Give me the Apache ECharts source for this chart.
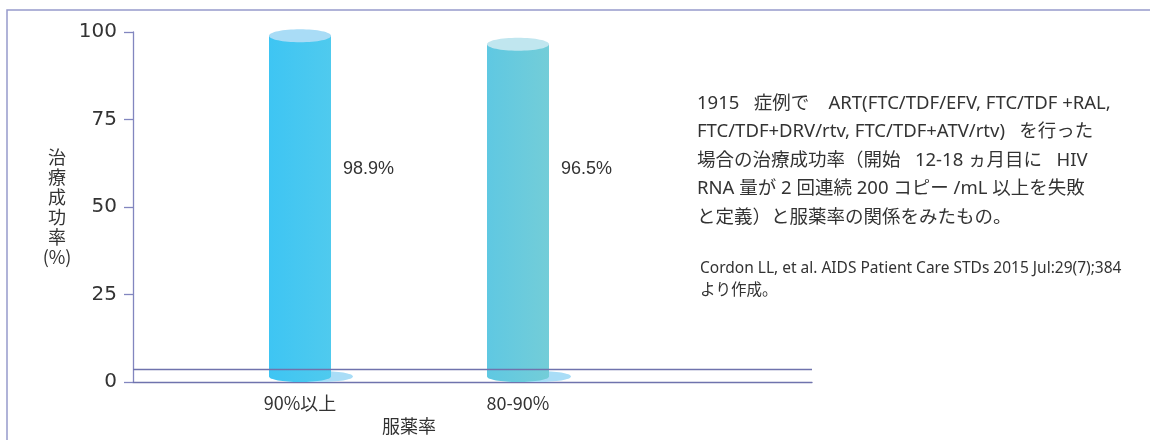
<!DOCTYPE html>
<html>
<head>
<meta charset="utf-8">
<script src="https://cdn.jsdelivr.net/npm/echarts@6/dist/echarts.min.js"></script>
<style>
  html, body { margin: 0; padding: 0; background: #fff; }
  #chart { width: 1150px; height: 440px; }
</style>
</head>
<body>
<div id="chart"></div>
<script>
// data
const categories = ['90%以上', '80-90%']
const successRate = [98.9, 96.5]
const yMin = 0
const yMax = 100
const yInterval = 25
const floorLevel = 3.7 // back edge of the "floor"
const labelLevel = 61  // height where the value labels sit

const noteLines = [
  '1915   症例で    ART(FTC/TDF/EFV, FTC/TDF +RAL,',
  'FTC/TDF+DRV/rtv, FTC/TDF+ATV/rtv)   を行った',
  '場合の治療成功率（開始   12-18 ヵ月目に   HIV',
  'RNA 量が 2 回連続 200 コピー /mL 以上を失敗',
  'と定義）と服薬率の関係をみたもの。',
]
const sourceLines = [
  'Cordon LL, et al. AIDS Patient Care STDs 2015 Jul:29(7);384',
  'より作成。',
]

// cylinder colours per bar: [body left, body right, top cap]
const palette = [
  ['#3ec5f3', '#4fcaee', '#a9dcf6'],
  ['#5fc8e2', '#73cdd8', '#c0e6ef'],
]
const SHADOW = '#a9ddf7'
const AXIS_COLOR = '#8286bf'
const BASE_COLOR = '#6f73ad'
const TEXT = '#333'
const LATIN_CJK = '"Noto Sans CJK JP", "Noto Sans", sans-serif'
const NOTE_FONT = '"Noto Sans", "Noto Sans CJK JP", sans-serif'

const chart = echarts.init(document.getElementById('chart'))

function renderCylinder(params, api) {
  const idx = api.value(0)
  const top = api.coord([idx, api.value(1)])
  const base = api.coord([idx, 0])
  const rx = 31
  const ryTop = 6.5
  const ryBot = 5.5
  const cx = top[0]
  const c = palette[idx % palette.length]
  const body = new echarts.graphic.LinearGradient(0, 0, 1, 0, [
    { offset: 0, color: c[0] },
    { offset: 1, color: c[1] },
  ])
  const lbl = api.coord([idx, labelLevel])
  return {
    type: 'group',
    children: [
      {
        type: 'ellipse',
        shape: { cx: cx + 20, cy: base[1] - ryBot, rx: 33, ry: ryBot },
        style: { fill: SHADOW },
      },
      {
        type: 'rect',
        shape: { x: cx - rx, y: top[1], width: rx * 2, height: base[1] - ryBot - top[1] },
        style: { fill: body },
      },
      {
        type: 'ellipse',
        shape: { cx: cx, cy: base[1] - ryBot, rx: rx, ry: ryBot },
        style: { fill: body },
      },
      {
        type: 'ellipse',
        shape: { cx: cx, cy: top[1], rx: rx, ry: ryTop },
        style: { fill: c[2] },
      },
      {
        type: 'text',
        x: cx + rx + 12,
        y: lbl[1] + 1,
        style: {
          text: api.value(1).toFixed(1) + '%',
          fill: TEXT,
          font: '18px "Liberation Sans", sans-serif',
          verticalAlign: 'middle',
          align: 'left',
        },
      },
    ],
  }
}

const option = {
  animation: false,
  grid: [
    { left: 133, top: 32, width: 679, height: 350 },
    { left: 191, top: 32, width: 436, height: 350 },
  ],
  xAxis: [
    {
      type: 'value',
      gridIndex: 0,
      min: 0,
      max: 1,
      axisLine: { show: true, lineStyle: { color: BASE_COLOR, width: 1.3 } },
      axisTick: { show: false },
      axisLabel: { show: false },
      splitLine: { show: false },
    },
    {
      type: 'category',
      gridIndex: 1,
      data: categories,
      axisLine: { show: false },
      axisTick: { show: false },
      axisLabel: {
        color: TEXT,
        fontSize: 18,
        fontFamily: LATIN_CJK,
        margin: 12,
      },
      name: '服薬率',
      nameLocation: 'middle',
      nameGap: 34,
      nameTextStyle: { color: TEXT, fontSize: 18, fontFamily: LATIN_CJK },
    },
  ],
  yAxis: [
    {
      type: 'value',
      gridIndex: 0,
      min: yMin,
      max: yMax,
      interval: yInterval,
      axisLine: { show: true, lineStyle: { color: AXIS_COLOR, width: 1.3 } },
      axisTick: { show: true, length: 9, lineStyle: { color: AXIS_COLOR, width: 1.3 } },
      axisLabel: {
        color: TEXT,
        fontSize: 20,
        fontFamily: '"DejaVu Sans", sans-serif',
        margin: 16,
      },
      splitLine: { show: false },
      name: '治\n療\n成\n功\n率\n(%)',
      nameLocation: 'middle',
      nameRotate: 0,
      nameGap: 76,
      nameTextStyle: {
        color: TEXT,
        fontSize: 18,
        fontFamily: LATIN_CJK,
        lineHeight: 20,
        align: 'center',
        verticalAlign: 'middle',
      },
    },
    {
      type: 'value',
      gridIndex: 1,
      min: yMin,
      max: yMax,
      show: false,
    },
  ],
  graphic: [
    {
      type: 'rect',
      silent: true,
      shape: { x: 7, y: 10, width: 1300, height: 600 },
      style: { fill: 'none', stroke: '#979bcc', lineWidth: 1.5 },
      z: -1,
    },
    {
      type: 'text',
      left: 697,
      top: 89,
      style: {
        text: noteLines.join('\n'),
        font: '18.5px ' + NOTE_FONT,
        lineHeight: 28.5,
        fill: TEXT,
      },
    },
    {
      type: 'text',
      left: 700,
      top: 258,
      style: {
        text: sourceLines.join('\n'),
        font: '15.5px ' + NOTE_FONT,
        lineHeight: 22,
        fill: TEXT,
      },
    },
  ],
  series: [
    {
      // floor line behind the cylinders
      type: 'line',
      xAxisIndex: 0,
      yAxisIndex: 0,
      data: [],
      silent: true,
      markLine: {
        silent: true,
        symbol: 'none',
        label: { show: false },
        lineStyle: { color: BASE_COLOR, width: 1.3, type: 'solid' },
        data: [{ yAxis: floorLevel }],
      },
    },
    {
      type: 'custom',
      xAxisIndex: 1,
      yAxisIndex: 1,
      renderItem: renderCylinder,
      data: categories.map((c, i) => [i, successRate[i]]),
      z: 3,
    },
  ],
}

chart.setOption(option)
</script>
</body>
</html>
